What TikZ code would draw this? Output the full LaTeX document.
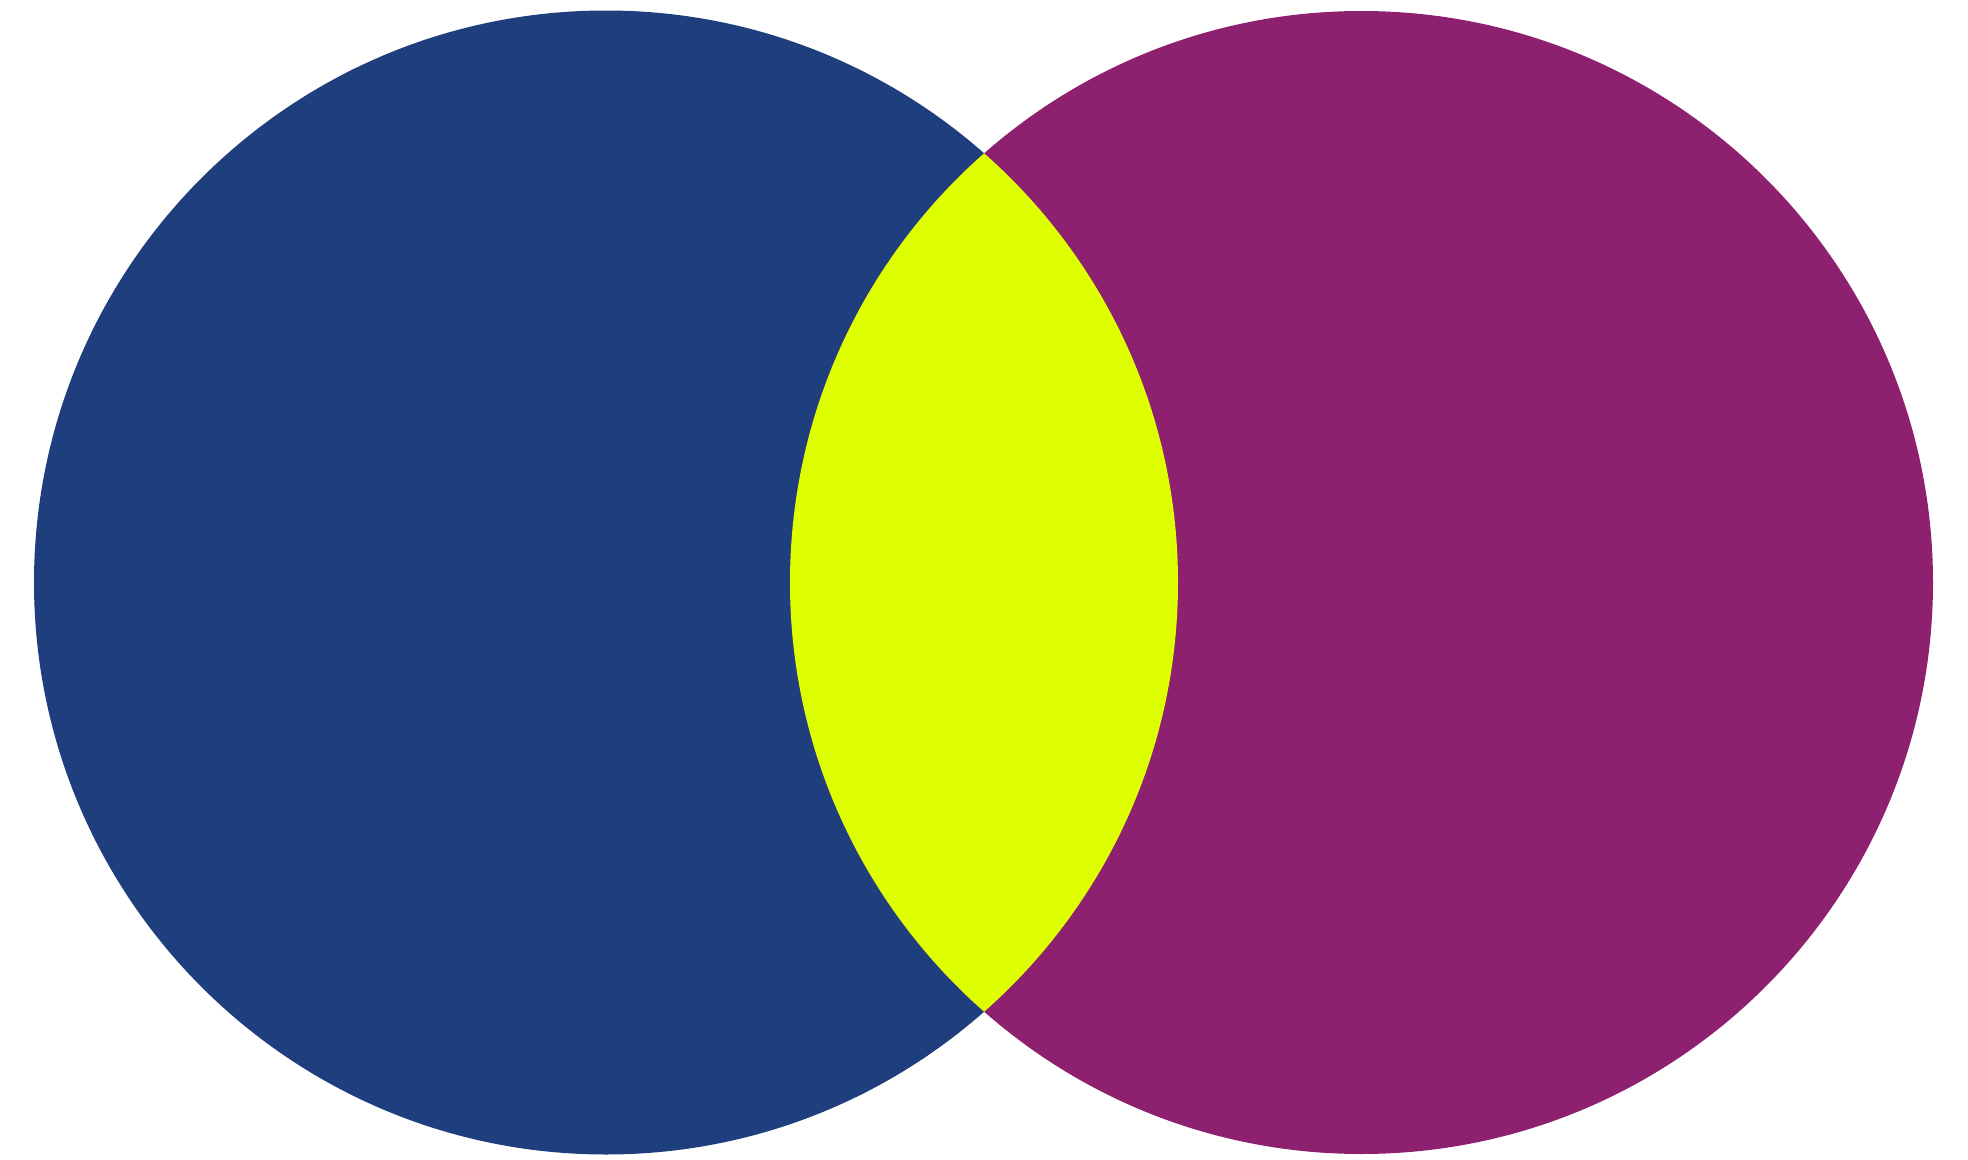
\documentclass[tikz,border=0pt]{standalone}
\definecolor{cblue}{RGB}{31,62,126}
\definecolor{cmag}{RGB}{142,32,112}
\definecolor{cyel}{RGB}{222,255,0}
\begin{document}
\begin{tikzpicture}[x=0.01cm,y=0.01cm]
\useasboundingbox (0,0) rectangle (1968,1159);
\fill[cblue] (606,576.5) circle[radius=572];
\fill[cmag] (1361.5,576.5) circle[radius=571.5];
\begin{scope}
\clip (606,576.5) circle[radius=572];
\fill[cyel] (1361.5,576.5) circle[radius=571.5];
\end{scope}
\end{tikzpicture}
\end{document}
